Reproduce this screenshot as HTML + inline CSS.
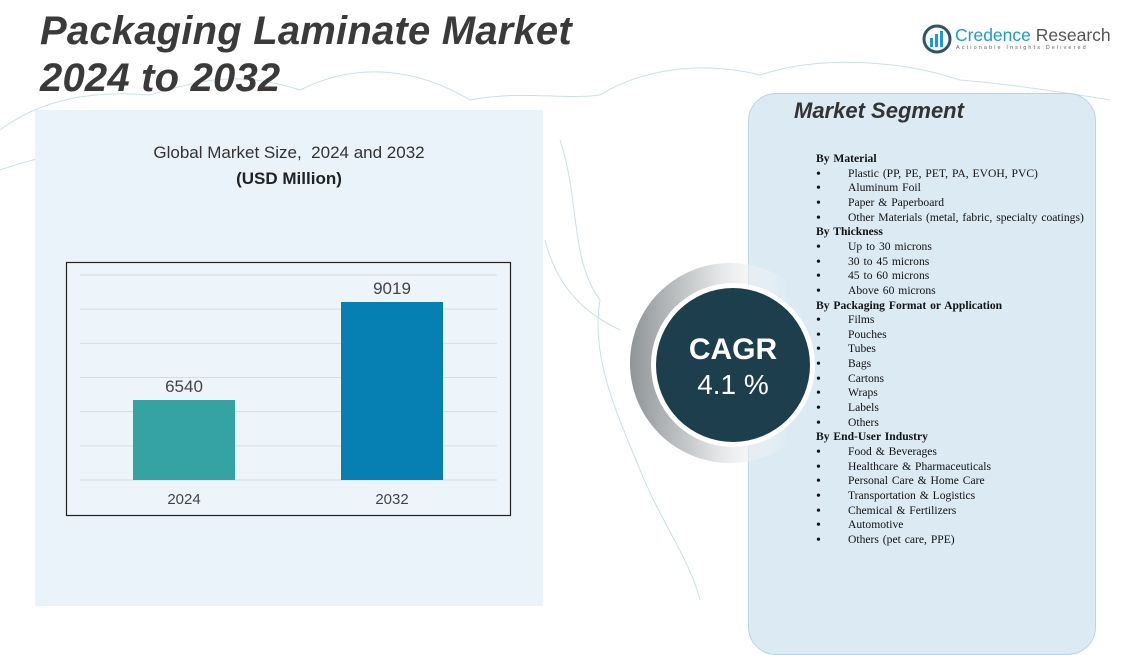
<!DOCTYPE html>
<html><head><meta charset="utf-8">
<style>
body{margin:0;width:1145px;height:606px;overflow:hidden;background:#fff;font-family:"Liberation Sans",sans-serif;position:relative}
.abs{position:absolute}
#title{left:40px;top:8px;font-size:40px;font-weight:bold;font-style:italic;color:#3a3a3a;line-height:47px;letter-spacing:0.2px;white-space:nowrap}
#left-panel{left:35px;top:110px;width:508px;height:496px;background:#e9f3f9}
#seg-panel{left:748px;top:93px;width:346px;height:560px;background:#dbeaf3;border:1.5px solid #b9d4e3;border-radius:28px}
.seg{font-family:"Liberation Serif",serif;font-size:11.6px;color:#111;white-space:nowrap;word-spacing:1px}
.bul{font-size:14px;line-height:13px}
</style></head><body>
<svg class="abs" style="left:0;top:0" width="1145" height="606">
<g fill="none" stroke="#bcd8e6" stroke-width="1" opacity="0.8">
<path d="M0,130 C40,100 90,90 150,95 C200,80 240,70 300,90 C360,60 420,70 470,100 C520,90 560,100 600,95"/>
<path d="M600,95 C640,70 700,60 760,75 C820,55 900,60 960,80 C1020,85 1080,95 1110,100"/>
<path d="M560,140 C580,200 570,260 600,300 C590,360 620,420 640,470 C660,520 690,560 700,600"/>
<path d="M545,240 C560,300 600,320 620,330"/>
<path d="M0,170 C30,160 60,150 90,160"/>
</g></svg>
<div id="title" class="abs">Packaging Laminate Market<br>2024 to 2032</div>
<div class="abs" style="left:922px;top:24px">
<svg width="30" height="30"><circle cx="15" cy="15" r="13" fill="none" stroke="#2f5566" stroke-width="3"/><rect x="8" y="14" width="3" height="9" fill="#1a9ad6"/><rect x="13" y="10" width="3" height="13" fill="#1a9ad6"/><rect x="18" y="7" width="3" height="16" fill="#1a9ad6"/></svg>
</div>
<div class="abs" style="left:955px;top:25px;font-size:17.5px;color:#2f6f8a;white-space:nowrap"><span style="color:#1a9ad6">Credence</span> <span style="color:#555">Research</span></div>
<div class="abs" style="left:956px;top:45px;font-size:5.5px;letter-spacing:2.1px;color:#667;white-space:nowrap">Actionable Insights Delivered</div>
<div id="left-panel" class="abs"></div>
<div class="abs" style="left:35px;width:508px;top:143px;text-align:center;font-size:17px;color:#333">Global Market Size,&nbsp; 2024 and 2032</div>
<div class="abs" style="left:35px;width:508px;top:169px;text-align:center;font-size:17px;font-weight:bold;color:#222">(USD Million)</div>
<svg id="chart" class="abs" style="left:0;top:0" width="560" height="606"></svg>
<div id="seg-panel" class="abs"></div>
<div class="abs" style="left:794px;top:98px;font-size:22px;font-weight:bold;font-style:italic;color:#333">Market Segment</div>
<div id="seglist" class="abs" style="left:0;top:0"></div>
<svg class="abs" style="left:620px;top:255px" width="230" height="220">
<defs><linearGradient id="rg" x1="0" x2="1" y1="0" y2="0"><stop offset="0" stop-color="#8f9496"/><stop offset="0.45" stop-color="#e4e6e7"/><stop offset="0.8" stop-color="#ffffff" stop-opacity="0"/></linearGradient></defs>
<circle cx="110" cy="108" r="100" fill="url(#rg)"/>
<circle cx="113" cy="110" r="82" fill="#fff"/>
<circle cx="113" cy="110" r="77" fill="#1c3e4d"/>
<text x="113" y="104" text-anchor="middle" font-family="Liberation Sans,sans-serif" font-weight="bold" font-size="30" fill="#fff">CAGR</text>
<text x="113" y="139" text-anchor="middle" font-family="Liberation Sans,sans-serif" font-size="28" fill="#fff">4.1 %</text>
</svg>
<script>
const categories=["2024","2032"];
const values=[6540,9019];
const barColors=["#35a3a4","#0680b2"];
const yMin=4516, yMax=9702;
const svg=document.getElementById('chart');
const NS='http://www.w3.org/2000/svg';
const plotTop=275,plotBottom=480;
function y(v){return plotBottom-(v-yMin)/(yMax-yMin)*(plotBottom-plotTop);}
const bx=[133,341], bw=102;
function mk(t,a){const e=document.createElementNS(NS,t);for(const k in a)e.setAttribute(k,a[k]);svg.appendChild(e);return e;}
const frame=mk('rect',{x:66.5,y:262.5,width:444,height:253,fill:'#edf5fa',stroke:'#222','stroke-width':1.2});


for(let i=0;i<7;i++){const gy=plotBottom-i*(plotBottom-plotTop)/6;
const g=mk('line',{x1:80,x2:497,y1:gy,y2:gy,stroke:'#d3dde3','stroke-width':1});

}
categories.forEach((c,i)=>{
const r=mk('rect',{x:bx[i],y:y(values[i]),width:bw,height:plotBottom-y(values[i]),fill:barColors[i]});


const t=mk('text',{x:bx[i]+bw/2,y:y(values[i])-8,'text-anchor':'middle','font-size':17,fill:'#444','font-family':'Liberation Sans,sans-serif'});t.textContent=values[i];


const l=mk('text',{x:bx[i]+bw/2,y:504,'text-anchor':'middle','font-size':15,fill:'#444','font-family':'Liberation Sans,sans-serif'});l.textContent=c;


});
const lines=[["h","By Material"],["b","Plastic (PP, PE, PET, PA, EVOH,  PVC)"],["b","Aluminum  Foil"],["b","Paper & Paperboard"],["b","Other Materials (metal, fabric, specialty coatings)"],["h","By Thickness"],["b","Up to 30 microns"],["b","30  to 45  microns"],["b","45  to 60  microns"],["b","Above 60  microns"],["h","By Packaging Format  or Application"],["b","Films"],["b","Pouches"],["b","Tubes"],["b","Bags"],["b","Cartons"],["b","Wraps"],["b","Labels"],["b","Others"],["h","By End-User  Industry"],["b","Food & Beverages"],["b","Healthcare & Pharmaceuticals"],["b","Personal Care  & Home  Care"],["b","Transportation & Logistics"],["b","Chemical  & Fertilizers"],["b","Automotive"],["b","Others (pet care, PPE)"]];
const box=document.getElementById('seglist');
lines.forEach((ln,i)=>{const yy=152+i*14.65;
if(ln[0]==='h'){const d=document.createElement('div');d.className='seg abs';d.style.left='816px';d.style.top=yy+'px';d.style.fontWeight='bold';d.textContent=ln[1];


box.appendChild(d);}
else{const b=document.createElement('div');b.className='seg abs bul';b.style.left='816px';b.style.top=(yy+1)+'px';b.textContent='•';


box.appendChild(b);
const d=document.createElement('div');d.className='seg abs';d.style.left='848px';d.style.top=yy+'px';d.textContent=ln[1];


box.appendChild(d);}
});
</script>
</body></html>
